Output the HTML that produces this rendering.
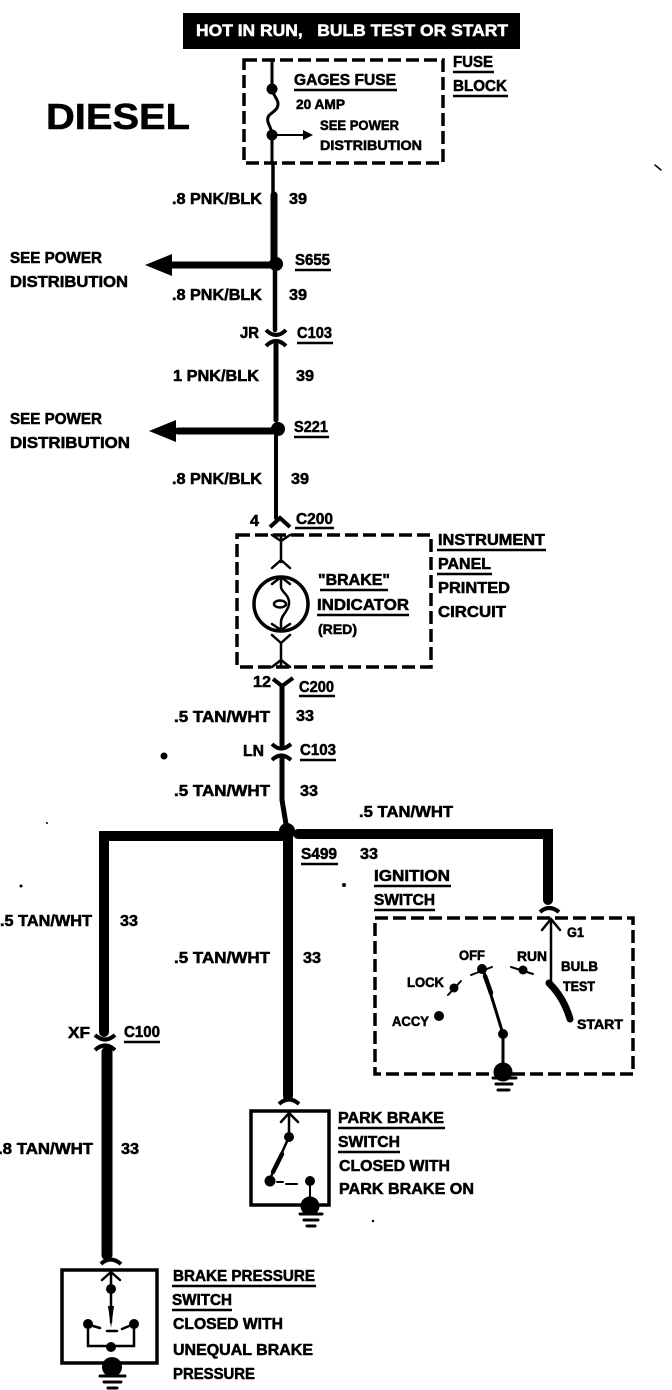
<!DOCTYPE html>
<html><head><meta charset="utf-8"><style>
html,body{margin:0;padding:0;background:#fff}
svg{display:block}
text{font-family:"Liberation Sans",sans-serif;font-weight:bold;fill:#000;font-size:16px;stroke:#000;stroke-width:.55px}
.s{font-size:14px}
.u{stroke:#000;stroke-width:2.5;fill:none}
.d{fill:none;stroke:#000;stroke-width:3.5;stroke-dasharray:13 5}
.w{fill:none;stroke:#000;stroke-linecap:round}
.c{fill:none;stroke:#000;stroke-width:4}
</style></head><body>
<svg width="672" height="1390" viewBox="0 0 672 1390" xmlns="http://www.w3.org/2000/svg">
<rect width="672" height="1390" fill="#fff"/>
<rect x="183" y="13" width="337" height="36" fill="#000"/>
<text x="196" y="36" textLength="312" lengthAdjust="spacingAndGlyphs" style="fill:#fff;stroke:#fff;font-size:17px">HOT IN RUN,&#160;&#160;&#160;BULB TEST OR START</text>
<text x="46" y="129" textLength="144" lengthAdjust="spacingAndGlyphs" style="font-size:36px">DIESEL</text>

<!-- fuse block -->
<rect class="d" x="244" y="60" width="199" height="103"/>
<path class="w" stroke-width="3" d="M272 60V88C272 96 281 100 277 108C273 114 266 114 268 122C270 128 272 130 272 135V163"/>
<circle cx="272" cy="89" r="5.5"/><circle cx="272" cy="135" r="5.5"/>
<path class="w" stroke-width="2" d="M272 135H306"/><path d="M303 130L313 135L303 140Z"/>
<text x="294" y="85" textLength="102" lengthAdjust="spacingAndGlyphs">GAGES FUSE</text><path class="u" d="M294 90H397"/>
<text class="s" x="296" y="109" textLength="49" lengthAdjust="spacingAndGlyphs">20 AMP</text>
<text class="s" x="320" y="130" textLength="79" lengthAdjust="spacingAndGlyphs">SEE POWER</text>
<text class="s" x="320" y="150" textLength="102" lengthAdjust="spacingAndGlyphs">DISTRIBUTION</text>
<text x="453" y="67" textLength="40" lengthAdjust="spacingAndGlyphs">FUSE</text><path class="u" d="M453 72H494"/>
<text x="453" y="91" textLength="54" lengthAdjust="spacingAndGlyphs">BLOCK</text><path class="u" d="M453 96H508"/>

<!-- main upper wire -->
<path class="w" stroke-width="3.5" d="M273 163V195"/>
<path class="w" stroke-width="7" d="M274 195V262"/>
<path class="w" stroke-width="4.5" d="M275 270V330"/>
<path class="w" stroke-width="5" d="M276 345V420"/>
<path class="w" stroke-width="4" d="M276 436V518"/>
<circle cx="276" cy="264" r="7"/><circle cx="278" cy="429" r="7"/>
<path class="w" stroke-width="7" d="M170 265H272M178 431H272"/>
<path d="M145 265L172 254V276Z"/><path d="M149 431L176 420V442Z"/>
<text x="172" y="204" textLength="90" lengthAdjust="spacingAndGlyphs">.8 PNK/BLK</text><text x="289" y="204" textLength="18" lengthAdjust="spacingAndGlyphs">39</text>
<text x="10" y="263" textLength="92" lengthAdjust="spacingAndGlyphs">SEE POWER</text>
<text x="10" y="287" textLength="118" lengthAdjust="spacingAndGlyphs">DISTRIBUTION</text>
<text x="295" y="265" textLength="35" lengthAdjust="spacingAndGlyphs">S655</text><path class="u" d="M295 270H331"/>
<text x="172" y="300" textLength="90" lengthAdjust="spacingAndGlyphs">.8 PNK/BLK</text><text x="289" y="300" textLength="18" lengthAdjust="spacingAndGlyphs">39</text>
<text x="240" y="338" textLength="19" lengthAdjust="spacingAndGlyphs">JR</text>
<path class="c" d="M266 330Q276 340 286 330M266 346Q276 336 286 346"/>
<text x="297" y="338" textLength="35" lengthAdjust="spacingAndGlyphs">C103</text><path class="u" d="M297 343H333"/>
<text x="173" y="381" textLength="86" lengthAdjust="spacingAndGlyphs">1 PNK/BLK</text><text x="296" y="381" textLength="18" lengthAdjust="spacingAndGlyphs">39</text>
<text x="10" y="424" textLength="92" lengthAdjust="spacingAndGlyphs">SEE POWER</text>
<text x="10" y="448" textLength="120" lengthAdjust="spacingAndGlyphs">DISTRIBUTION</text>
<text x="294" y="432" textLength="34" lengthAdjust="spacingAndGlyphs">S221</text><path class="u" d="M294 437H329"/>
<text x="172" y="484" textLength="90" lengthAdjust="spacingAndGlyphs">.8 PNK/BLK</text><text x="291" y="484" textLength="18" lengthAdjust="spacingAndGlyphs">39</text>

<!-- instrument panel -->
<text x="250" y="526" textLength="9" lengthAdjust="spacingAndGlyphs">4</text>
<text x="296" y="524" textLength="37" lengthAdjust="spacingAndGlyphs">C200</text><path class="u" d="M295 528H334"/>
<path class="c" d="M270 527L280 518L290 527"/>
<rect class="d" x="237" y="535" width="194" height="132"/>
<path class="w" stroke-width="2.5" d="M281 535V562M272 568L281 560L290 568M272 535L281 541L290 535"/>
<circle cx="281" cy="604" r="27" fill="none" stroke="#000" stroke-width="3.5"/>
<path class="w" stroke-width="2.5" d="M272 584L281 577L290 584M281 577V587C281 592 290 595 289 604C288 612 281 615 281 622V628M272 624L281 630L290 624"/>
<ellipse cx="280" cy="604" rx="6" ry="3.5" fill="none" stroke="#000" stroke-width="2.5"/>
<path class="w" stroke-width="2.5" d="M272 635L281 643L290 635M281 643V666M272 667L281 660L290 667"/>
<text x="318" y="585" textLength="72" lengthAdjust="spacingAndGlyphs">"BRAKE"</text><path class="u" d="M320 590H388"/>
<text x="317" y="610" textLength="92" lengthAdjust="spacingAndGlyphs">INDICATOR</text><path class="u" d="M317 615H409"/>
<text class="s" x="318" y="634" textLength="39" lengthAdjust="spacingAndGlyphs">(RED)</text>
<text x="438" y="545" textLength="107" lengthAdjust="spacingAndGlyphs">INSTRUMENT</text><path class="u" d="M437 550H546"/>
<text x="438" y="569" textLength="53" lengthAdjust="spacingAndGlyphs">PANEL</text><path class="u" d="M437 574H492"/>
<text x="438" y="593" textLength="72" lengthAdjust="spacingAndGlyphs">PRINTED</text>
<text x="438" y="617" textLength="68" lengthAdjust="spacingAndGlyphs">CIRCUIT</text>
<text x="253" y="687" textLength="18" lengthAdjust="spacingAndGlyphs">12</text>
<path class="c" d="M273 679L282 686L293 678"/>
<text x="299" y="692" textLength="35" lengthAdjust="spacingAndGlyphs">C200</text><path class="u" d="M299 696H335"/>

<!-- tan wire -->
<path class="w" stroke="#333" stroke-width="5" d="M282 686V745M282 758V800L287 830"/>
<text x="174" y="722" textLength="96" lengthAdjust="spacingAndGlyphs">.5 TAN/WHT</text><text x="296" y="721" textLength="18" lengthAdjust="spacingAndGlyphs">33</text>
<text x="243" y="756" textLength="21" lengthAdjust="spacingAndGlyphs">LN</text>
<path class="c" d="M272 744Q281 753 291 744M272 760Q281 751 291 760"/>
<text x="300" y="755" textLength="36" lengthAdjust="spacingAndGlyphs">C103</text><path class="u" d="M300 760H336"/>
<text x="174" y="796" textLength="96" lengthAdjust="spacingAndGlyphs">.5 TAN/WHT</text><text x="300" y="796" textLength="18" lengthAdjust="spacingAndGlyphs">33</text>
<text x="359" y="817" textLength="94" lengthAdjust="spacingAndGlyphs">.5 TAN/WHT</text>
<path class="w" stroke-width="10" d="M104 1032V836H288M298 834H548V900"/>
<path class="w" stroke-width="10" d="M288 832V1096"/>
<circle cx="287" cy="831" r="8"/>
<text x="301" y="859" textLength="36" lengthAdjust="spacingAndGlyphs">S499</text><path class="u" d="M301 864H338"/>
<text x="360" y="859" textLength="18" lengthAdjust="spacingAndGlyphs">33</text>

<!-- ignition -->
<text x="374" y="881" textLength="76" lengthAdjust="spacingAndGlyphs">IGNITION</text><path class="u" d="M374 886H451"/>
<text x="374" y="905" textLength="61" lengthAdjust="spacingAndGlyphs">SWITCH</text><path class="u" d="M374 910H435"/>
<rect class="d" x="375" y="918" width="258" height="156"/>
<path class="c" d="M540 912Q549 904 559 912"/>
<path class="w" stroke-width="2.5" d="M551 919V984M542 930L551 919L560 930"/>
<path class="w" stroke-width="7" d="M549 983Q564 998 570 1019"/>
<text class="s" x="567" y="937" textLength="17" lengthAdjust="spacingAndGlyphs">G1</text>
<text class="s" x="459" y="960" textLength="26" lengthAdjust="spacingAndGlyphs">OFF</text>
<text class="s" x="517" y="961" textLength="30" lengthAdjust="spacingAndGlyphs">RUN</text>
<text class="s" x="561" y="971" textLength="37" lengthAdjust="spacingAndGlyphs">BULB</text>
<text class="s" x="563" y="991" textLength="32" lengthAdjust="spacingAndGlyphs">TEST</text>
<text class="s" x="407" y="987" textLength="37" lengthAdjust="spacingAndGlyphs">LOCK</text>
<text class="s" x="392" y="1026" textLength="37" lengthAdjust="spacingAndGlyphs">ACCY</text>
<text class="s" x="577" y="1029" textLength="46" lengthAdjust="spacingAndGlyphs">START</text>
<circle cx="482" cy="969" r="5"/><path class="w" stroke-width="2" d="M471 975L492 967"/>
<circle cx="523" cy="970" r="4.5"/><path class="w" stroke-width="2" d="M511 967L533 974"/>
<circle cx="454" cy="988" r="4.5"/><path class="w" stroke-width="2" d="M448 995L461 981"/>
<circle cx="439" cy="1016" r="5"/>
<path class="w" stroke-width="3" d="M484 972L503 1034V1070"/><path class="w" stroke-width="4.5" d="M485 976L491 993"/>
<circle cx="503" cy="1034" r="5"/><circle cx="503" cy="1072" r="9.5"/>
<path class="w" stroke-width="3" d="M494 1079H517M497 1085H513M499 1091H510" transform="translate(-1,-1)"/>

<!-- left branch -->
<text x="0" y="926" textLength="92" lengthAdjust="spacingAndGlyphs">.5 TAN/WHT</text><text x="120" y="926" textLength="18" lengthAdjust="spacingAndGlyphs">33</text>
<text x="68" y="1038" textLength="22" lengthAdjust="spacingAndGlyphs">XF</text>
<path class="c" d="M95 1035Q105 1044 115 1035M95 1050Q105 1041 115 1050"/>
<text x="124" y="1037" textLength="36" lengthAdjust="spacingAndGlyphs">C100</text><path class="u" d="M124 1042H160"/>
<path class="w" stroke-width="11" d="M107 1052V1255"/>
<text x="-2" y="1154" textLength="95" lengthAdjust="spacingAndGlyphs">.8 TAN/WHT</text><text x="121" y="1154" textLength="18" lengthAdjust="spacingAndGlyphs">33</text>

<!-- centre text -->
<text x="174" y="963" textLength="96" lengthAdjust="spacingAndGlyphs">.5 TAN/WHT</text><text x="303" y="963" textLength="18" lengthAdjust="spacingAndGlyphs">33</text>

<!-- park brake -->
<path class="c" d="M279 1104Q289 1095 299 1104"/>
<rect x="251" y="1111" width="78" height="94" fill="none" stroke="#000" stroke-width="3.5"/>
<path class="w" stroke-width="2.5" d="M289 1113V1137L269 1181M281 1122L289 1113L298 1122"/>
<path class="w" stroke-width="4.5" d="M282 1154L273 1172"/>
<circle cx="289" cy="1137" r="5"/><circle cx="270" cy="1181" r="5.5"/><circle cx="310" cy="1181" r="5"/>
<path class="w" stroke-width="2" d="M277 1182H283M286 1184H297M310 1184V1200"/>
<circle cx="310" cy="1206" r="9.5"/>
<path class="w" stroke-width="3" d="M300 1214H322M304 1220H318M307 1226H315"/>
<text x="338" y="1123" textLength="106" lengthAdjust="spacingAndGlyphs">PARK BRAKE</text><path class="u" d="M338 1128H445"/>
<text x="338" y="1147" textLength="62" lengthAdjust="spacingAndGlyphs">SWITCH</text><path class="u" d="M338 1152H400"/>
<text x="339" y="1171" textLength="111" lengthAdjust="spacingAndGlyphs">CLOSED WITH</text>
<text x="339" y="1194" textLength="135" lengthAdjust="spacingAndGlyphs">PARK BRAKE ON</text>

<!-- brake pressure -->
<path class="c" d="M101 1264Q110 1255 121 1264"/>
<rect x="62" y="1270" width="95" height="93" fill="none" stroke="#000" stroke-width="3.5"/>
<path class="w" stroke-width="2.5" d="M111 1272V1322M102 1280L111 1272L120 1280"/>
<circle cx="111" cy="1289" r="5"/><path d="M108 1306H114L111 1328Z"/>
<circle cx="88" cy="1324" r="5"/><circle cx="134" cy="1324" r="5"/>
<path class="w" stroke-width="2.5" d="M88 1324V1346H134V1324M93 1326L100 1328M129 1326L122 1329M107 1331H117"/>
<circle cx="111" cy="1347" r="5"/>
<circle cx="112" cy="1367" r="10"/><path d="M102 1367H122L120 1362H104Z"/>
<path class="w" stroke-width="3" d="M100 1376H125M104 1382H121M108 1388H117"/>
<text x="173" y="1281" textLength="142" lengthAdjust="spacingAndGlyphs">BRAKE PRESSURE</text><path class="u" d="M172 1286H316"/>
<text x="172" y="1305" textLength="60" lengthAdjust="spacingAndGlyphs">SWITCH</text><path class="u" d="M172 1310H232"/>
<text x="173" y="1329" textLength="110" lengthAdjust="spacingAndGlyphs">CLOSED WITH</text>
<text x="173" y="1355" textLength="140" lengthAdjust="spacingAndGlyphs">UNEQUAL BRAKE</text>
<text x="173" y="1379" textLength="82" lengthAdjust="spacingAndGlyphs">PRESSURE</text>

<!-- specks -->
<circle cx="164" cy="756" r="3.5"/><circle cx="21" cy="886" r="1.5"/><circle cx="344" cy="885" r="2"/><circle cx="373" cy="1221" r="1.2"/><circle cx="47" cy="823" r="1"/><path class="w" stroke-width="1.5" d="M655 165L661 170"/>
</svg>
</body></html>
